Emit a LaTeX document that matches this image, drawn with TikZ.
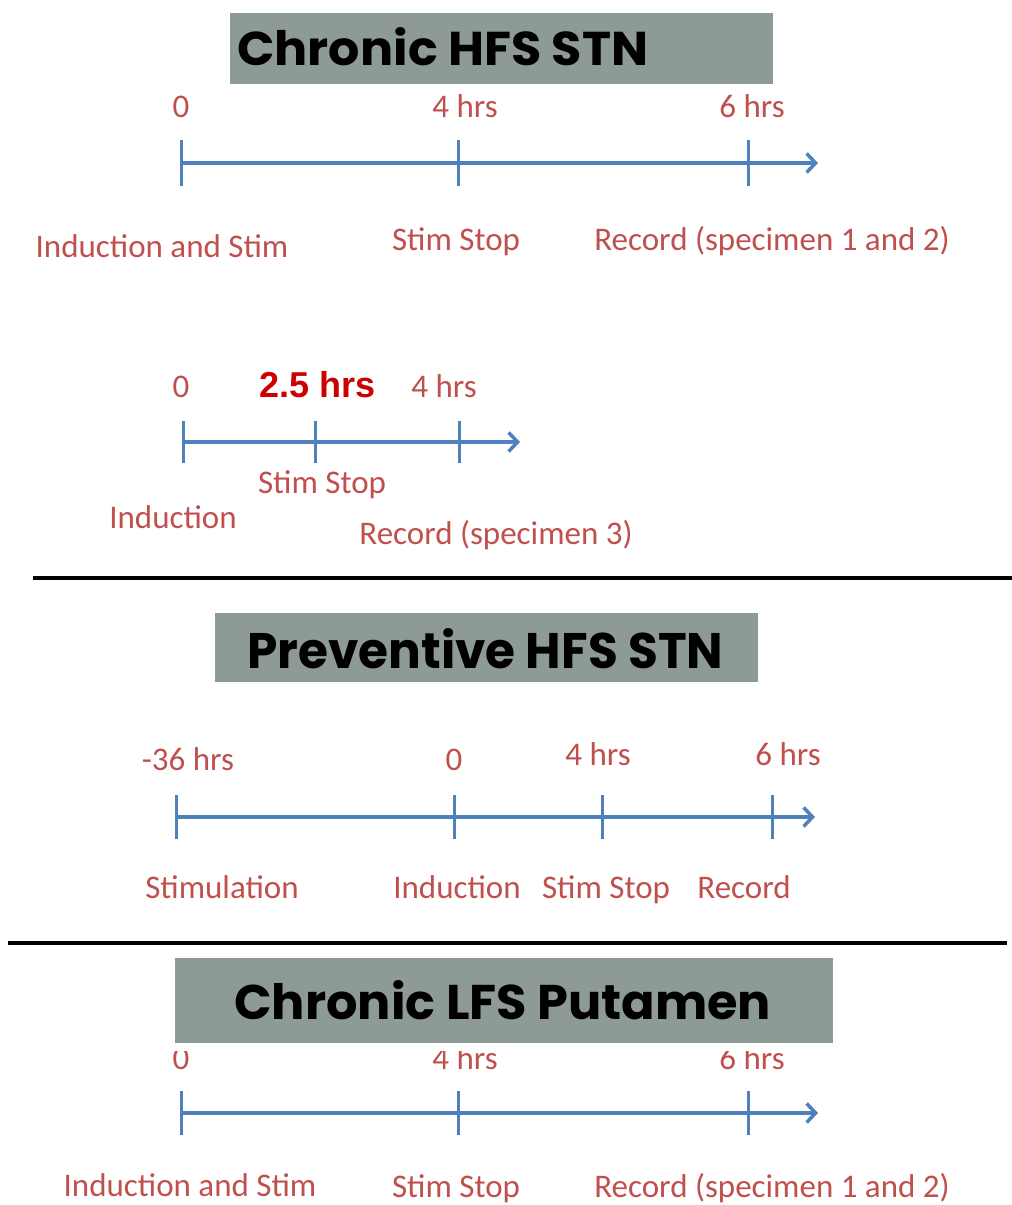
\documentclass[tikz,border=0pt]{standalone}
\usepackage{fontspec}
\setmainfont{Carlito}
\newfontfamily\titlefont{Poppins}
\newfontfamily\boldsans{Liberation Sans}
\usetikzlibrary{arrows.meta}
\definecolor{labelred}{RGB}{192,80,77}
\definecolor{axisblue}{RGB}{79,129,189}
\definecolor{bannergrey}{RGB}{142,155,148}
\definecolor{hotred}{RGB}{204,0,0}
\tikzset{
  axis/.style={axisblue, line width=3.5pt, -{Straight Barb[length=9pt,width=19pt,line width=3.5pt]}},
  tickmark/.style={axisblue, line width=3pt},
  lbl/.style={labelred, font=\fontsize{33}{36}\selectfont, inner sep=0pt, anchor=base},
  keylbl/.style={hotred, font=\boldsans\bfseries\fontsize{36}{40}\selectfont, inner sep=0pt, anchor=base},
  banner/.style={fill=bannergrey, draw=none, inner sep=0pt, anchor=north west},
  bannertext/.style={inner sep=0pt, anchor=base west, black},
  rule/.style={black, line width=4pt},
}
\begin{document}
\begin{tikzpicture}[x=1pt, y=-1pt]
\fill[white] (0,0) rectangle (1012,1205);
\useasboundingbox (0,0) rectangle (1012,1205);

% ---------- Chronic HFS STN ----------
\node[banner, minimum width=543pt, minimum height=71pt] (T1) at (230,13) {};
\node[bannertext] (T1txt) at (237,65) {\resizebox{411pt}{38pt}{\titlefont\bfseries Chronic HFS STN}};

\coordinate (A0) at (181,163);
\coordinate (A1) at (458,163);
\coordinate (A2) at (748,163);
\coordinate (Aend) at (818,163);
\draw[axis] (A0) -- (Aend);
\foreach \p in {A0,A1,A2} \draw[tickmark] (\p) ++(0,-23) -- ++(0,46);
\node[lbl] (A0t) at (181,117) {0};
\node[lbl] (A1t) at (465,117) {4 hrs};
\node[lbl] (A2t) at (752,117) {6 hrs};
\node[lbl] (A0b) at (162,257) {Induction and Stim};
\node[lbl] (A1b) at (456,250) {Stim Stop};
\node[lbl] (A2b) at (772,250) {Record (specimen 1 and 2)};

% ---------- specimen 3 variant ----------
\coordinate (B0) at (183,442);
\coordinate (B1) at (315,442);
\coordinate (B2) at (459,442);
\coordinate (Bend) at (520,442);
\draw[axis] (B0) -- (Bend);
\foreach \p in {B0,B1,B2} \draw[tickmark] (\p) ++(0,-21) -- ++(0,42);
\node[lbl] (B0t) at (181,397) {0};
\node[keylbl] (B1t) at (318,397) {2.5 hrs};
\node[lbl] (B2t) at (444,397) {4 hrs};
\node[lbl] (B1b) at (322,493) {Stim Stop};
\node[lbl] (B0b) at (173,528) {Induction};
\node[lbl] (B2b) at (496,544) {Record (specimen 3)};

% ---------- separator ----------
\coordinate (R1a) at (33,578);
\coordinate (R1b) at (1012,578);
\draw[rule] (R1a) -- (R1b);

% ---------- Preventive HFS STN ----------
\node[banner, minimum width=543pt, minimum height=69pt] (T2) at (215,613) {};
\node[bannertext] (T2txt) at (247,668) {\resizebox{476pt}{40pt}{\titlefont\bfseries Preventive HFS STN}};

\coordinate (C0) at (176,817);
\coordinate (C1) at (454,817);
\coordinate (C2) at (602,817);
\coordinate (C3) at (772,817);
\coordinate (Cend) at (815,817);
\draw[axis] (C0) -- (Cend);
\foreach \p in {C0,C1,C2,C3} \draw[tickmark] (\p) ++(0,-22) -- ++(0,44);
\node[lbl] (C0t) at (188,770) {-36 hrs};
\node[lbl] (C1t) at (454,770) {0};
\node[lbl] (C2t) at (598,765) {4 hrs};
\node[lbl] (C3t) at (788,765) {6 hrs};
\node[lbl] (C0b) at (222,898) {Stimulation};
\node[lbl] (C1b) at (457,898) {Induction};
\node[lbl] (C2b) at (606,898) {Stim Stop};
\node[lbl] (C3b) at (744,898) {Record};

% ---------- separator ----------
\coordinate (R2a) at (8,943);
\coordinate (R2b) at (1007,943);
\draw[rule] (R2a) -- (R2b);

% ---------- Chronic LFS Putamen ----------
\coordinate (D0) at (181,1113);
\coordinate (D1) at (458,1113);
\coordinate (D2) at (748,1113);
\coordinate (Dend) at (818,1113);
\draw[axis] (D0) -- (Dend);
\foreach \p in {D0,D1,D2} \draw[tickmark] (\p) ++(0,-22) -- ++(0,44);
\node[lbl] (D0t) at (181,1069) {0};
\node[lbl] (D1t) at (465,1069) {4 hrs};
\node[lbl] (D2t) at (752,1069) {6 hrs};
\node[lbl] (D0b) at (190,1196) {Induction and Stim};
\node[lbl] (D1b) at (456,1197) {Stim Stop};
\node[lbl] (D2b) at (772,1197) {Record (specimen 1 and 2)};

% banner drawn last, with a white margin, so it clips the tops of the time labels
\fill[white] (171,954) rectangle (837,1051);
\node[banner, minimum width=658pt, minimum height=85pt] (T3) at (175,958) {};
\node[bannertext] (T3txt) at (234,1019) {\resizebox{537pt}{39pt}{\titlefont\bfseries Chronic LFS Putamen}};
\end{tikzpicture}
\end{document}
